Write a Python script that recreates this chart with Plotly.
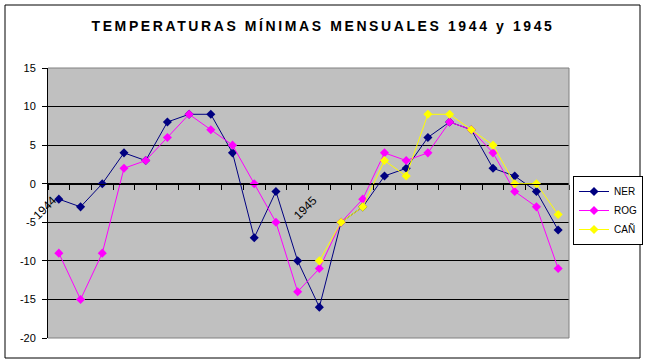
import plotly.graph_objects as go

# ---- data ----
months = ["Ene", "Feb", "Mar", "Abr", "May", "Jun", "Jul", "Ago", "Sep", "Oct", "Nov", "Dic"]
years = ["1944", "1945"]
categories = [f"{m}-{y}" for y in years for m in months]
cat_tick_labels = ["1944"] + [""] * 11 + ["1945"] + [""] * 11

ner = [-2, -3, 0, 4, 3, 8, 9, 9, 4, -7, -1, -10,
       -16, -5, -3, 1, 2, 6, 8, 7, 2, 1, -1, -6]
rog = [-9, -15, -9, 2, 3, 6, 9, 7, 5, 0, -5, -14,
       -11, -5, -2, 4, 3, 4, 8, 7, 4, -1, -3, -11]
can = [None] * 12 + [-10, -5, -3, 3, 1, 9, 9, 7, 5, 0, 0, -4]

y_tick_vals = [-20, -15, -10, -5, 0, 5, 10, 15]
y_tick_labels = ["-20", "-15", "-10", "-5", "0", "5", "10", "15"]

series = [("NER", ner, "#000080"), ("ROG", rog, "#FF00FF"), ("CAÑ", can, "#FFFF00")]

# ---- layout geometry (pixels) ----
W, H = 646, 363
L, R, T, B = 48, 569, 68, 338
pw, ph = R - L, B - T

def px_x(x):
    return (x - L) / pw

def px_y(y):
    return (B - y) / ph

fig = go.Figure()
for name, vals, col in series:
    fig.add_trace(go.Scatter(
        x=categories, y=vals, name=name, mode="lines+markers",
        line=dict(color=col, width=1),
        marker=dict(symbol="diamond", size=7, color=col),
        connectgaps=False,
    ))

fig.update_layout(
    width=W, height=H,
    margin=dict(l=L, r=W - R, t=T, b=H - B, autoexpand=False),
    paper_bgcolor="white",
    plot_bgcolor="#C0C0C0",
    font=dict(family="Arial, Liberation Sans, sans-serif", color="black", size=11),
    title=dict(
        text='<span style="letter-spacing:2.6px">TEMPERATURAS MÍNIMAS MENSUALES 1944 y 1945</span>',
        x=0.5, xref="container", xanchor="center",
        y=1 - 25.7 / H, yref="container", yanchor="middle",
        font=dict(family="Arial, Liberation Sans, sans-serif", size=14, color="black", weight="bold"),
    ),
    showlegend=True,
    legend=dict(
        x=px_x(573), y=px_y(176), xanchor="left", yanchor="top",
        bgcolor="white", bordercolor="black", borderwidth=1,
        font=dict(size=10, family="Arial, Liberation Sans, sans-serif"),
        tracegroupgap=0,
    ),
    xaxis=dict(
        type="category", categoryorder="array", categoryarray=categories,
        tickmode="array", tickvals=categories, ticktext=cat_tick_labels,
        tickson="boundaries", ticks="outside", ticklen=5, tickcolor="black", tickwidth=1,
        tickangle=-45, tickfont=dict(size=12),
        ticklabelstandoff=4, ticklabelshift=-6,
        showline=True, linecolor="black", linewidth=1,
        showgrid=False, zeroline=False,
        anchor="free", position=4 / 7,
        range=[-0.5, 23.5],
    ),
    yaxis=dict(
        range=[-20, 15], tickmode="array", tickvals=y_tick_vals, ticktext=y_tick_labels,
        ticks="outside", ticklen=5, tickcolor="black", tickwidth=1,
        ticklabelstandoff=4,
        showline=True, linecolor="black", linewidth=1,
        showgrid=True, gridcolor="black", gridwidth=1,
        zeroline=False, tickfont=dict(size=11),
    ),
    shapes=[
        # outer chart border
        dict(type="rect", xref="paper", yref="paper",
             x0=px_x(5), x1=px_x(640), y0=px_y(358), y1=px_y(5),
             line=dict(color="black", width=1), fillcolor="rgba(0,0,0,0)", layer="below"),
        # plot area border (top, right, bottom) in gray
        dict(type="line", xref="paper", yref="paper", x0=0, x1=1, y0=1, y1=1,
             line=dict(color="#808080", width=1), layer="above"),
        dict(type="line", xref="paper", yref="paper", x0=1, x1=1, y0=0, y1=1,
             line=dict(color="#808080", width=1), layer="above"),
        dict(type="line", xref="paper", yref="paper", x0=0, x1=1, y0=0, y1=0,
             line=dict(color="#808080", width=1), layer="above"),
    ],
)

fig.write_html("out.html", config={"displayModeBar": False},
               post_script="document.body.style.margin='0px';")
